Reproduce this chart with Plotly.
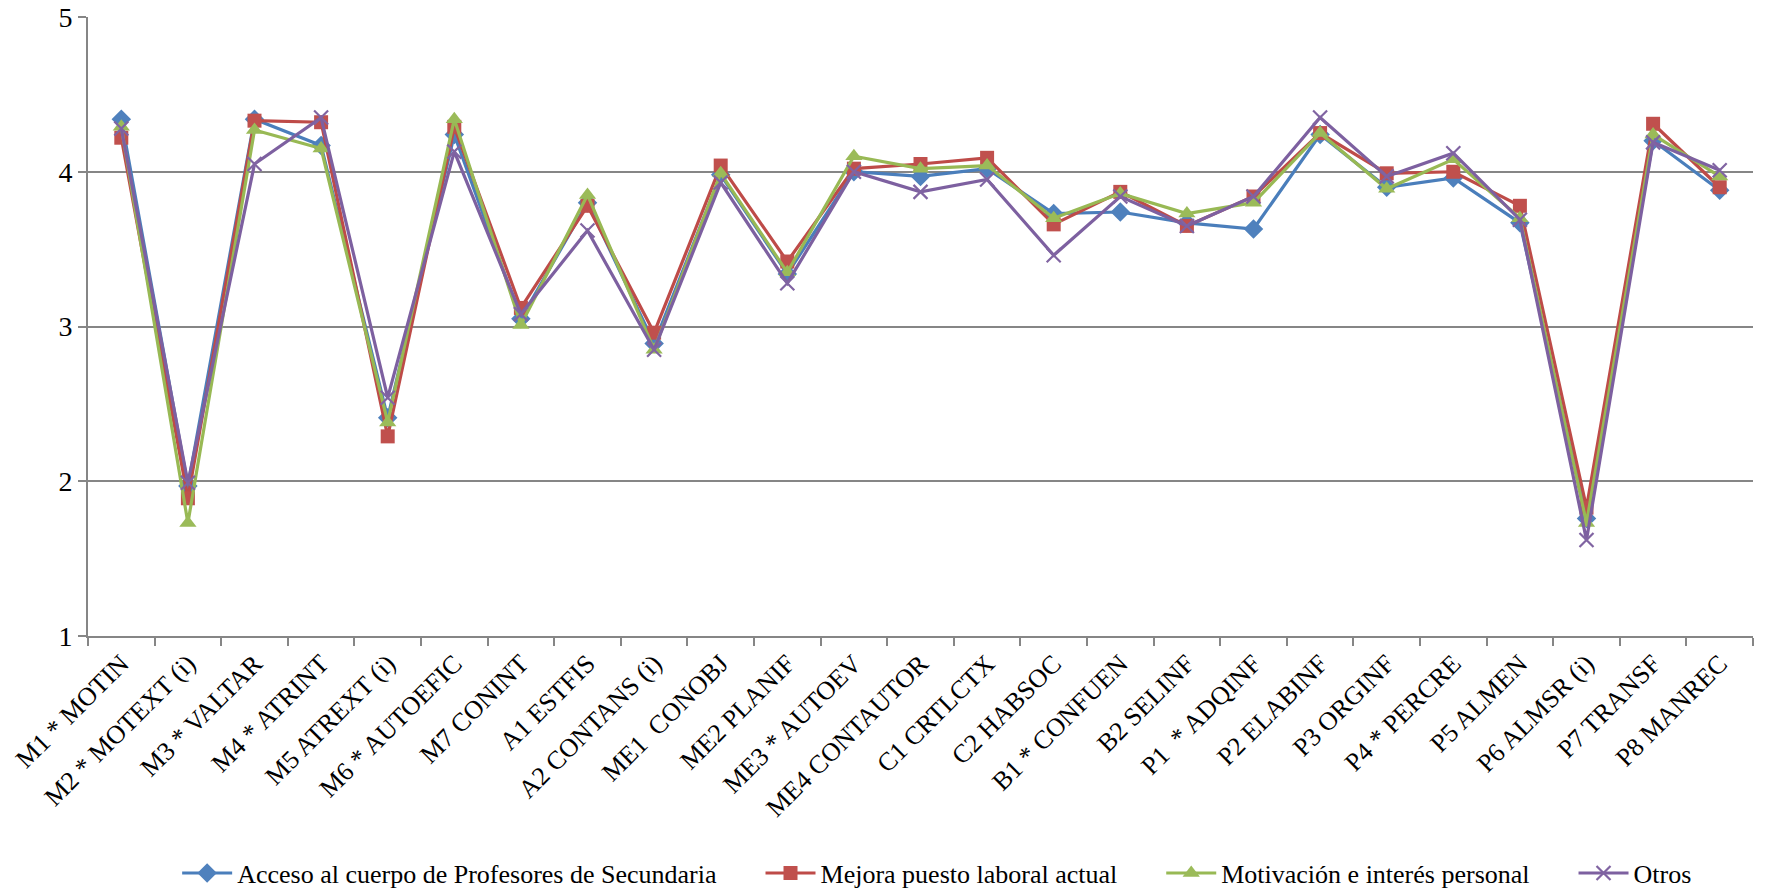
import plotly.graph_objects as go

# Items (x-axis categories)
categorias = [
    "M1 * MOTIN", "M2 * MOTEXT (i)", "M3 * VALTAR", "M4 * ATRINT",
    "M5 ATREXT (i)", "M6 * AUTOEFIC", "M7 CONINT", "A1 ESTFIS",
    "A2 CONTANS (i)", "ME1\u00a0 CONOBJ", "ME2 PLANIF", "ME3 * AUTOEV",
    "ME4 CONTAUTOR", "C1 CRTLCTX", "C2 HABSOC", "B1 * CONFUEN",
    "B2 SELINF", "P1\u00a0 * ADQINF", "P2 ELABINF", "P3 ORGINF",
    "P4 * PERCRE", "P5 ALMEN", "P6 ALMSR (i)", "P7 TRANSF", "P8 MANREC",
]

# Mean scores per motive
acceso = [4.34, 1.97, 4.34, 4.17, 2.41, 4.24, 3.05, 3.80, 2.89, 3.98, 3.34, 4.00, 3.97,
          4.02, 3.73, 3.74, 3.67, 3.63, 4.24, 3.90, 3.96, 3.67, 1.76, 4.20, 3.88]
mejora = [4.22, 1.89, 4.33, 4.32, 2.29, 4.29, 3.12, 3.78, 2.96, 4.04, 3.42, 4.02, 4.05,
          4.09, 3.66, 3.87, 3.65, 3.84, 4.25, 3.99, 4.00, 3.78, 1.83, 4.31, 3.90]
motivacion = [4.29, 1.73, 4.27, 4.15, 2.38, 4.34, 3.01, 3.85, 2.85, 3.99, 3.35, 4.10, 4.02,
              4.04, 3.70, 3.86, 3.73, 3.80, 4.25, 3.89, 4.08, 3.70, 1.73, 4.24, 3.97]
otros = [4.28, 1.99, 4.05, 4.35, 2.54, 4.13, 3.08, 3.62, 2.85, 3.93, 3.28, 4.00, 3.87,
         3.95, 3.46, 3.84, 3.65, 3.84, 4.35, 3.97, 4.12, 3.69, 1.62, 4.19, 4.01]

series = [
    ("Acceso al cuerpo de Profesores de Secundaria", acceso, "#4A7EBB", "#4F81BD", "diamond", 15),
    ("Mejora puesto laboral actual", mejora, "#BE4B48", "#C0504D", "square", 14),
    ("Motivación e interés personal", motivacion, "#98B954", "#9BBB59", "triangle-up", 15),
    ("Otros", otros, "#7D60A0", "#8064A2", "x-thin", 14),
]

# extra spacing after each legend entry except the last
hueco = "\u00a0" * 6

fig = go.Figure()
for i, (nombre, valores, color_linea, color_marca, simbolo, tam) in enumerate(series):
    marker = dict(symbol=simbolo, size=tam, color=color_marca)
    if simbolo == "x-thin":
        marker["line"] = dict(color=color_marca, width=2.2)
    etiqueta = nombre + (hueco if i < len(series) - 1 else "")
    fig.add_trace(go.Scatter(
        x=categorias, y=valores, name=etiqueta, mode="lines+markers",
        line=dict(color=color_linea, width=3.2),
        marker=marker,
    ))

fuente = "Liberation Serif, Times New Roman, serif"
fig.update_layout(
    width=1771, height=890,
    margin=dict(l=88, r=18, t=17, b=254, autoexpand=False),
    paper_bgcolor="white", plot_bgcolor="white",
    font=dict(family=fuente, size=26, color="black"),
    showlegend=True,
    legend=dict(orientation="h", x=0.51, xanchor="center", y=-0.383, yanchor="middle",
                font=dict(family=fuente, size=26), itemwidth=50, tracegroupgap=0),
)
fig.update_xaxes(
    type="category", range=[-0.5, len(categorias) - 0.5],
    tickangle=-45, ticks="outside", ticklen=8, tickcolor="#868686", tickwidth=2,
    tickson="boundaries", showgrid=False, automargin=False,
    showline=True, linecolor="#868686", linewidth=2,
    tickfont=dict(family=fuente, size=26),
)
fig.update_yaxes(
    range=[1, 5], dtick=1, tick0=1, automargin=False,
    ticks="outside", ticklen=8, tickcolor="#868686", tickwidth=2,
    showgrid=True, gridcolor="#868686", gridwidth=2,
    showline=True, linecolor="#868686", linewidth=2,
    zeroline=False, tickfont=dict(family=fuente, size=28),
)

fig.write_html("out.html")
